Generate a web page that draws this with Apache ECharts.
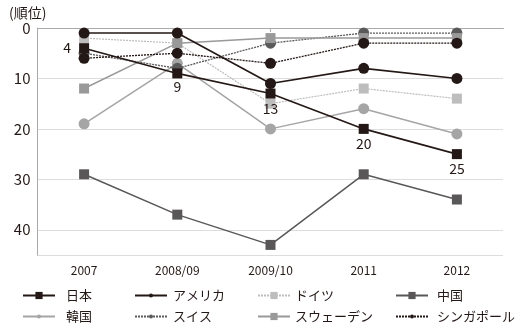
<!DOCTYPE html>
<html>
<head>
<meta charset="utf-8">
<script src="https://cdn.jsdelivr.net/npm/echarts@6/dist/echarts.min.js"></script>
<style>
  html, body { margin: 0; padding: 0; background: #fff; }
  #chart { width: 520px; height: 336px; }
</style>
</head>
<body>
<div id="chart"></div>
<script>
// Ranking by year (1 = best)
const years = ['2007', '2008/09', '2009/10', '2011', '2012'];
const japan = [4, 9, 13, 20, 25];
const usa = [1, 1, 11, 8, 10];
const germany = [2, 3, 15, 12, 14];
const china = [29, 37, 43, 29, 34];
const korea = [19, 7, 20, 16, 21];
const switzerland = [5, 8, 3, 1, 1];
const sweden = [12, 3, 2, 2, 2];
const singapore = [6, 5, 7, 3, 3];
const yTicks = [0, 10, 20, 30, 40];

const FONT = '"Noto Sans CJK JP", "Noto Sans", sans-serif';

// Series appearance
const styles = [
  { name: '日本', data: japan, color: '#231815', symbol: 'rect', type: 'solid', width: 1.6, z: 9 },
  { name: 'アメリカ', data: usa, color: '#231815', symbol: 'circle', type: 'solid', width: 1.6, z: 10 },
  { name: 'ドイツ', data: germany, color: '#bdbdbd', symbol: 'rect', type: [2, 1], width: 1.2, z: 4 },
  { name: '中国', data: china, color: '#595757', symbol: 'rect', type: 'solid', width: 1.5, z: 3 },
  { name: '韓国', data: korea, color: '#a5a5a5', symbol: 'circle', type: 'solid', width: 1.5, z: 5 },
  { name: 'スイス', data: switzerland, color: '#5a5a5a', symbol: 'circle', type: [2, 1], width: 1.3, z: 6 },
  { name: 'スウェーデン', data: sweden, color: '#999999', symbol: 'rect', type: 'solid', width: 1.5, z: 7 },
  { name: 'シンガポール', data: singapore, color: '#231815', symbol: 'circle', type: [2, 1], width: 1.3, z: 8 }
];

const series = styles.map(s => {
  const data = s.data.map((v, i) => {
    if (s.name !== '日本') return v;
    return {
      value: v,
      label: {
        show: true,
        position: i === 0 ? 'left' : 'bottom',
        distance: i === 0 ? 8 : (i === 1 ? 1 : 3),
        formatter: String(v),
        fontSize: 14,
        fontFamily: FONT,
        color: '#231815'
      }
    };
  });
  return {
    name: s.name,
    type: 'line',
    data: data,
    symbol: s.symbol,
    symbolSize: s.symbol === 'rect' ? 10 : 11,
    z: s.z,
    color: s.color,
    itemStyle: { color: s.color },
    lineStyle: { color: s.color, width: s.width, type: s.type },
    emphasis: { disabled: true },
    animation: false
  };
});

// One legend per entry, laid out in 4 columns x 2 rows
const colX = [22, 134, 257, 395];
const colPad = [6, 1, 0, 4];
const rowY = [289, 310];
const legends = styles.map((s, i) => ({
  data: [s.name],
  left: colX[i % 4],
  top: rowY[Math.floor(i / 4)],
  padding: 0,
  itemWidth: 32,
  itemHeight: s.symbol === 'rect' ? 9 : 5,
  itemGap: 0,
  textStyle: { fontSize: 13, fontFamily: FONT, color: '#231815', padding: [0, 0, 0, colPad[i % 4]] },
  selectedMode: false
}));

const chart = echarts.init(document.getElementById('chart'), null, { renderer: 'canvas' });
chart.setOption({
  animation: false,
  backgroundColor: '#fff',
  grid: { left: 37.5, right: 16.5, top: 28, bottom: 81, containLabel: false },
  title: {
    text: '(順位)',
    left: 4,
    top: 1,
    textStyle: { fontSize: 14, fontWeight: 'normal', fontFamily: FONT, color: '#231815' }
  },
  legend: legends,
  xAxis: {
    type: 'category',
    data: years,
    boundaryGap: true,
    axisLine: { lineStyle: { color: '#aaaaaa', width: 1 } },
    axisTick: { show: true, alignWithLabel: true, length: 4, lineStyle: { color: '#aaaaaa' } },
    axisLabel: { fontSize: 12, fontFamily: FONT, color: '#231815', margin: 9 },
    splitLine: { show: false }
  },
  yAxis: {
    type: 'value',
    inverse: true,
    min: 0,
    max: 45,
    interval: 10,
    axisLine: { show: true, lineStyle: { color: '#aaaaaa', width: 1 } },
    axisTick: { show: false },
    axisLabel: {
      fontSize: 15,
      fontFamily: FONT,
      color: '#231815',
      margin: 7,
      formatter: v => (yTicks.includes(v) ? String(v) : '')
    },
    splitLine: { show: true, lineStyle: { color: '#bbbbbb', type: [1, 1], width: 1 } }
  },
  series: series
});
</script>
</body>
</html>
